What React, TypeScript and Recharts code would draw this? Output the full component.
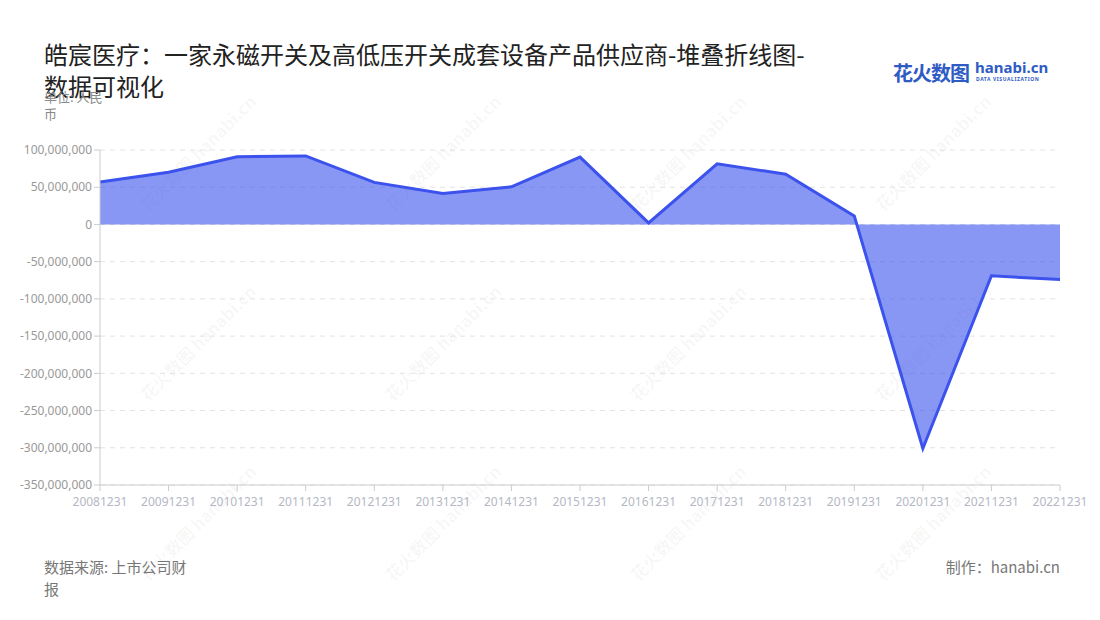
import { AreaChart, Area, XAxis, YAxis, CartesianGrid } from 'recharts';

const years = [
  '20081231', '20091231', '20101231', '20111231', '20121231', '20131231', '20141231', '20151231',
  '20161231', '20171231', '20181231', '20191231', '20201231', '20211231', '20221231',
];

const netProfit = [
  57000000, 70000000, 91000000, 92000000, 56500000, 41500000, 50500000, 90500000,
  2000000, 81500000, 67500000, 11500000, -301000000, -69000000, -74000000,
];

const yTicks = [100000000, 50000000, 0, -50000000, -100000000, -150000000, -200000000, -250000000, -300000000, -350000000];

const data = years.map((y, i) => ({ year: y, value: netProfit[i] }));

const FONT = '"Noto Sans", "Noto Sans CJK SC", sans-serif';
const CJK = '"Noto Sans CJK SC", sans-serif';

const watermarkSpots = [
  [170, 150], [415, 150], [660, 150], [905, 150],
  [170, 340], [415, 340], [660, 340], [905, 340],
  [170, 520], [415, 520], [660, 520], [905, 520],
];

export default function App() {
  return (
    <div style={{ position: 'absolute', left: 0, top: 0, width: 1100, height: 620, background: '#fff', overflow: 'hidden', fontFamily: FONT }}>
      <div style={{ position: 'absolute', left: 44, top: 38, width: 800, fontSize: 24, lineHeight: '32px', color: '#222', fontFamily: CJK }}>
        皓宸医疗：一家永磁开关及高低压开关成套设备产品供应商-堆叠折线图-<br />数据可视化
      </div>
      <div style={{ position: 'absolute', left: 44, top: 88, width: 70, fontSize: 13, lineHeight: '17px', color: '#888', fontFamily: CJK }}>
        单位: 人民币
      </div>
      <div style={{ position: 'absolute', left: 893, top: 58, fontSize: 20, fontWeight: 700, color: '#2f5bc4', fontFamily: CJK, letterSpacing: -1 }}>
        花火数图
      </div>
      <div style={{ position: 'absolute', left: 975, top: 58, fontSize: 15, fontWeight: 700, color: '#2f5bc4', fontFamily: FONT, lineHeight: '18px' }}>
        hanabi.cn
      </div>
      <div style={{ position: 'absolute', left: 976, top: 76, fontSize: 5, fontWeight: 700, color: '#2f5bc4', fontFamily: FONT, letterSpacing: 0.6 }}>
        DATA VISUALIZATION
      </div>
      {watermarkSpots.map(([x, y]) => (
        <div key={`${x}-${y}`} style={{ position: 'absolute', left: x - 50, top: y - 10, transform: 'rotate(-45deg)', fontSize: 17, fontWeight: 700, color: 'rgba(0,0,0,0.045)', whiteSpace: 'nowrap', fontFamily: CJK, pointerEvents: 'none' }}>
          花火数图 hanabi.cn
        </div>
      ))}
      <div style={{ position: 'absolute', left: 0, top: 0 }}>
        <AreaChart width={1100} height={620} data={data} margin={{ top: 150, right: 40, bottom: 105, left: 0 }}>
          <CartesianGrid vertical={false} stroke="#e2e2e2" strokeDasharray="5 5" />
          <XAxis
            dataKey="year"
            interval={0}
            tick={{ fontSize: 12, fill: '#b4b8c4', fontFamily: FONT }}
            tickLine={{ stroke: '#ccc' }}
            axisLine={{ stroke: '#ccc' }}
            tickMargin={6}
          />
          <YAxis
            width={100}
            domain={[-350000000, 100000000]}
            ticks={yTicks}
            interval={0}
            tickFormatter={(v: number) => v.toLocaleString('en-US')}
            tick={{ fontSize: 12, fill: '#999', fontFamily: FONT }}
            tickLine={{ stroke: '#ccc' }}
            axisLine={{ stroke: '#ccc' }}
          />
          <Area
            type="linear"
            dataKey="value"
            stroke="#3b52ec"
            strokeWidth={3}
            fill="#3b52ec"
            fillOpacity={0.6}
            baseValue={0}
            isAnimationActive={false}
          />
        </AreaChart>
      </div>
      <div style={{ position: 'absolute', left: 44, top: 556, width: 155, fontSize: 15, lineHeight: '22px', color: '#777', fontFamily: CJK }}>
        数据来源: 上市公司财报
      </div>
      <div style={{ position: 'absolute', right: 40, top: 556, fontSize: 15, lineHeight: '22px', color: '#777', fontFamily: CJK }}>
        制作：hanabi.cn
      </div>
    </div>
  );
}
